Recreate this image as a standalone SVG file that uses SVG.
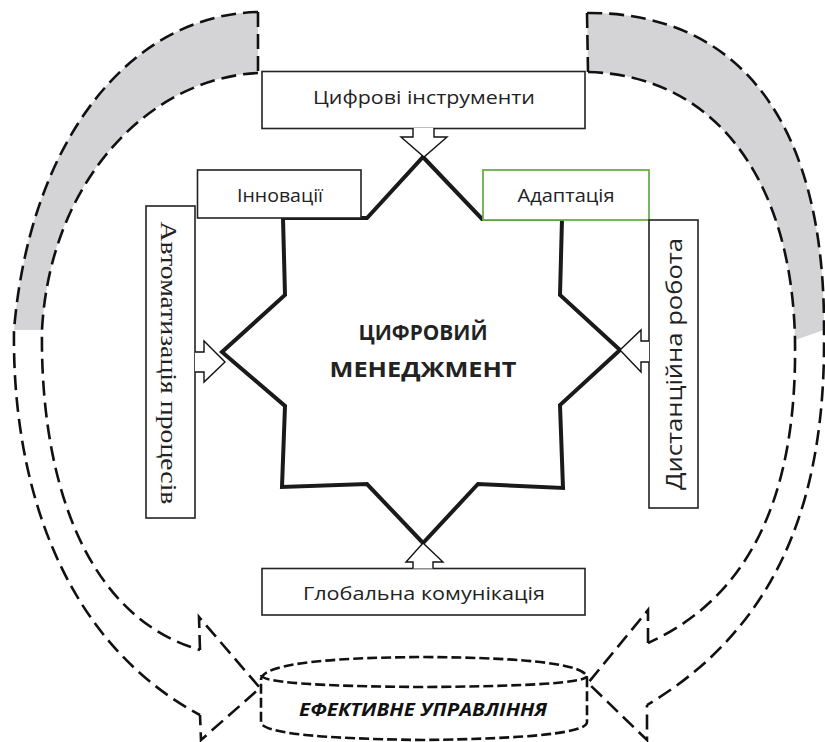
<svg xmlns="http://www.w3.org/2000/svg" width="825" height="742" viewBox="0 0 825 742">
<style>
.box{fill:#fff;stroke:#222;stroke-width:1.6}
.lbl{font-family:"Open Sans","Noto Sans",sans-serif;font-size:19px;fill:#222;text-anchor:middle}
.dash{fill:none;stroke:#111;stroke-width:2.6;stroke-dasharray:15,7}
.cyl{fill:none;stroke:#111;stroke-width:2.6;stroke-dasharray:10,4}
.arr{fill:#fff;stroke:#111;stroke-width:1.4;stroke-linejoin:miter}
.star{fill:#fff;stroke:#1a1a1a;stroke-width:4;stroke-linejoin:miter}
</style>
<rect width="825" height="742" fill="#fff"/>
<g id="connectors">
  <!-- gray fills of the curved bands -->
  <path d="M258,12 C130,15 30,140 14,330 L42,330 C50,180 150,78 258,73 Z" fill="#d4d4d6"/>
  <path d="M587,13 C745,12 825,130 824,330 L795,340 C792,180 715,75 588,72 Z" fill="#d4d4d6"/>
  <!-- left band -->
  <path class="dash" d="M258,12 C130,15 30,140 14,330 C12,480 60,640 200,715"/>
  <path class="dash" d="M258,73 C150,78 50,180 42,330 C40,470 80,615 200,650"/>
  <path class="dash" d="M258,12 L258,73"/>
  <path class="dash" d="M200,650 L199,617 L260,688 L201,740 L200,715"/>
  <!-- right band -->
  <path class="dash" d="M587,13 C745,12 825,130 824,330 C826,480 790,620 647,705"/>
  <path class="dash" d="M588,72 C715,75 792,180 795,340 C797,470 765,590 648,643"/>
  <path class="dash" d="M587,13 L588,72"/>
  <path class="dash" d="M648,643 L648,610 L588,683 L647,740 L647,705"/>
</g>
<g id="star">
  <polygon class="star" points="423,157 482,219 562,219 560,295 620,350 560,405 563,488 478,484 423,543 367,484 282,487 285,406 222,352 285,295 283,218 367,218"/>
  <text x="423" y="340" font-family="'Open Sans','Noto Sans',sans-serif" font-weight="bold" font-size="21" fill="#222" text-anchor="middle" textLength="129" lengthAdjust="spacingAndGlyphs">ЦИФРОВИЙ</text>
  <text x="423" y="377" font-family="'Open Sans','Noto Sans',sans-serif" font-weight="bold" font-size="21" fill="#222" text-anchor="middle" textLength="187" lengthAdjust="spacingAndGlyphs">МЕНЕДЖМЕНТ</text>
</g>
<g id="node-tsyfrovi">
  <rect class="box" x="262" y="71.5" width="323" height="57"/>
  <text class="lbl" x="424" y="104" font-size="20" textLength="222" lengthAdjust="spacingAndGlyphs">Цифрові інструменти</text>
  <path class="arr" d="M413,128 L413,137 L401,137 L424,157 L447,137 L434,137 L434,128"/>
</g>
<g id="node-innovatsii">
  <rect class="box" x="197.5" y="170" width="163.5" height="48"/>
  <text class="lbl" x="280" y="201.5" textLength="86" lengthAdjust="spacingAndGlyphs">Інновації</text>
</g>
<g id="node-adaptatsiia">
  <rect x="483" y="170" width="166" height="50" fill="#fff" stroke="#6aae45" stroke-width="1.8"/>
  <text class="lbl" x="566" y="201.5" textLength="97" lengthAdjust="spacingAndGlyphs">Адаптація</text>
</g>
<g id="node-avtomatyzatsiia">
  <rect class="box" x="146" y="206" width="49" height="312"/>
  <text x="161" y="363" transform="rotate(90 161 363)" font-family="'Liberation Serif','Times New Roman',serif" font-size="24" fill="#222" text-anchor="middle" textLength="283" lengthAdjust="spacingAndGlyphs">Автоматизація процесів</text>
  <path class="arr" d="M195,352 L204,352 L204,341 L225,362 L204,382 L204,372 L195,372"/>
</g>
<g id="node-dystantsiina">
  <rect class="box" x="649" y="220" width="49" height="288"/>
  <text x="682" y="364" transform="rotate(-90 682 364)" font-family="'Open Sans','Noto Sans',sans-serif" font-size="22" fill="#222" text-anchor="middle" textLength="252" lengthAdjust="spacingAndGlyphs">Дистанційна робота</text>
  <path class="arr" d="M649,341 L641,341 L641,330 L620,350 L641,372 L641,362 L649,362"/>
</g>
<g id="node-hlobalna">
  <rect class="box" x="262" y="568.5" width="323" height="46.5"/>
  <text class="lbl" x="424" y="600" font-size="20" textLength="242" lengthAdjust="spacingAndGlyphs">Глобальна комунікація</text>
  <path class="arr" d="M413,568.5 L413,562 L406,562 L423,543 L443,562 L433,562 L433,568.5"/>
</g>
<g id="node-efektyvne">
  <path class="cyl" d="M261,680 Q261,658 423,657 Q587,658 587,678 L587,722 Q587,738 423,740 Q261,738 261,722 Z"/>
  <path class="cyl" d="M261,675 Q262,686 423,687 Q586,686 587,676"/>
  <text x="423" y="716" font-family="'Open Sans','Noto Sans',sans-serif" font-weight="bold" font-style="italic" font-size="17" fill="#111" text-anchor="middle" textLength="248" lengthAdjust="spacingAndGlyphs">ЕФЕКТИВНЕ УПРАВЛІННЯ</text>
</g>
</svg>
